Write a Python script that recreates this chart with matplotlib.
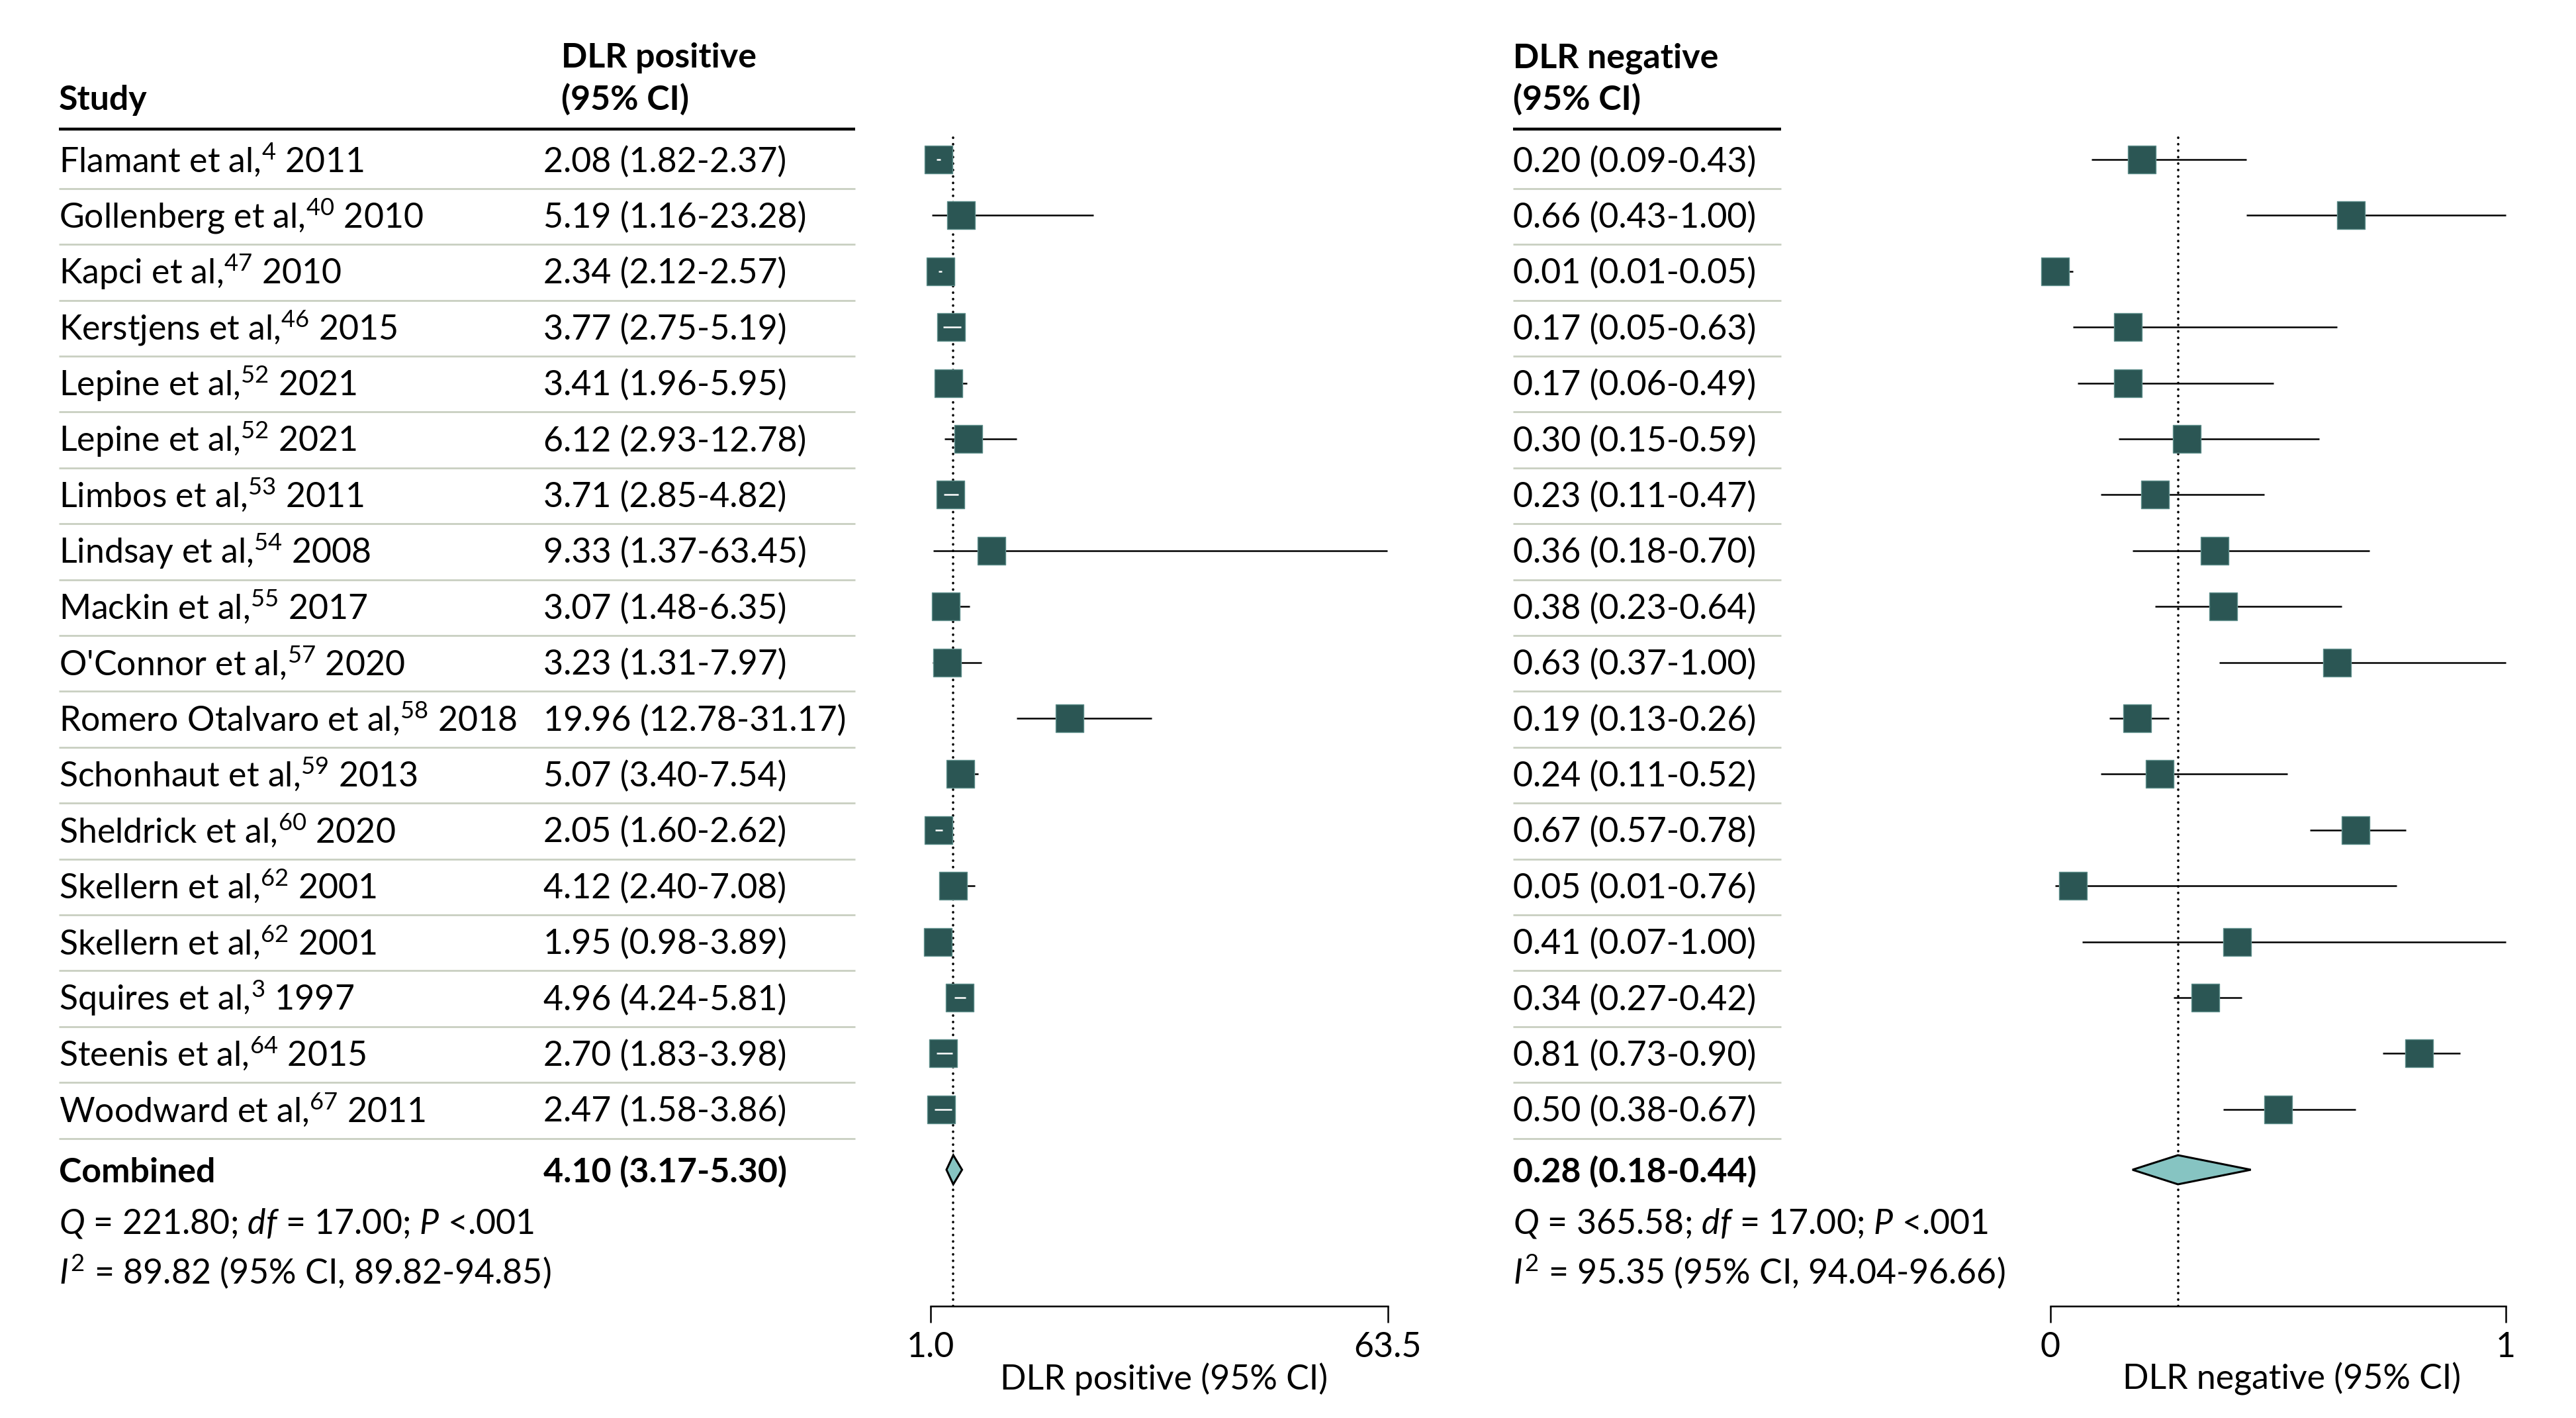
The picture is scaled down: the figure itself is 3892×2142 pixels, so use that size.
import numpy as np
import matplotlib
matplotlib.use("Agg")
import matplotlib.pyplot as plt
from matplotlib.patches import Polygon

# --- data -----------------------------------------------------------------
studies = ["Flamant et al", "Gollenberg et al", "Kapci et al", "Kerstjens et al",
           "Lepine et al", "Lepine et al", "Limbos et al", "Lindsay et al",
           "Mackin et al", "O'Connor et al", "Romero Otalvaro et al", "Schonhaut et al",
           "Sheldrick et al", "Skellern et al", "Skellern et al", "Squires et al",
           "Steenis et al", "Woodward et al"]
refs = [4, 40, 47, 46, 52, 52, 53, 54, 55, 57, 58, 59, 60, 62, 62, 3, 64, 67]
years = [2011, 2010, 2010, 2015, 2021, 2021, 2011, 2008, 2017, 2020, 2018, 2013,
         2020, 2001, 2001, 1997, 2015, 2011]

pos_est = [2.08, 5.19, 2.34, 3.77, 3.41, 6.12, 3.71, 9.33, 3.07, 3.23, 19.96, 5.07,
           2.05, 4.12, 1.95, 4.96, 2.70, 2.47]
pos_lo = [1.82, 1.16, 2.12, 2.75, 1.96, 2.93, 2.85, 1.37, 1.48, 1.31, 12.78, 3.40,
          1.60, 2.40, 0.98, 4.24, 1.83, 1.58]
pos_hi = [2.37, 23.28, 2.57, 5.19, 5.95, 12.78, 4.82, 63.45, 6.35, 7.97, 31.17, 7.54,
          2.62, 7.08, 3.89, 5.81, 3.98, 3.86]

neg_est = [0.20, 0.66, 0.01, 0.17, 0.17, 0.30, 0.23, 0.36, 0.38, 0.63, 0.19, 0.24,
           0.67, 0.05, 0.41, 0.34, 0.81, 0.50]
neg_lo = [0.09, 0.43, 0.01, 0.05, 0.06, 0.15, 0.11, 0.18, 0.23, 0.37, 0.13, 0.11,
          0.57, 0.01, 0.07, 0.27, 0.73, 0.38]
neg_hi = [0.43, 1.00, 0.05, 0.63, 0.49, 0.59, 0.47, 0.70, 0.64, 1.00, 0.26, 0.52,
          0.78, 0.76, 1.00, 0.42, 0.90, 0.67]

pos_comb = (4.10, 3.17, 5.30)
neg_comb = (0.28, 0.18, 0.44)
pos_q = r"$\mathit{Q}$ = 221.80; $\mathit{df}$ = 17.00; $\mathit{P}$ <.001"
pos_i2 = r"$\mathit{I}^{\mathrm{2}}$ = 89.82 (95% CI, 89.82-94.85)"
neg_q = r"$\mathit{Q}$ = 365.58; $\mathit{df}$ = 17.00; $\mathit{P}$ <.001"
neg_i2 = r"$\mathit{I}^{\mathrm{2}}$ = 95.35 (95% CI, 94.04-96.66)"

# --- style ----------------------------------------------------------------
FONT = "Lato"
plt.rcParams["font.family"] = [FONT, "DejaVu Sans"]
plt.rcParams["mathtext.fontset"] = "custom"
plt.rcParams["mathtext.rm"] = FONT
plt.rcParams["mathtext.it"] = FONT + ":italic"
plt.rcParams["mathtext.bf"] = FONT + ":bold"

W, H, DPI = 3892, 2142, 200
FS = 18.7
SQ_COLOR = "#2b5654"
SQ_EDGE = "#5f8f8c"
DIA_COLOR = "#86c4c2"
SEP_COLOR = "#c9cfc1"

# rows are laid out on a fixed pitch, px = ROW0 + PITCH * row
ROW0, PITCH = 241, 84.4


def px2row(p):
    return (p - ROW0) / PITCH


Y_TOP = px2row(200)
Y_AXIS = px2row(1973)
COMB_ROW = px2row(1767)
Q_ROW = px2row(1845)
I2_ROW = px2row(1920)
BASE = 0.225  # baseline offset from row centre

fig = plt.figure(figsize=(W / DPI, H / DPI), dpi=DPI)
ax_t = fig.add_axes([0, 0, 1, 1])
ax_t.set_xlim(0, W)
ax_t.set_ylim(px2row(H), px2row(0))
ax_t.axis("off")


def fmt(e, l, h):
    return f"{e:.2f} ({l:.2f}-{h:.2f})"


def table(x_val, x_head, x_line0, x_line1, est, lo, hi, comb, q, i2, head, study_col):
    n = len(est)
    ax_t.text(x_head, px2row(102), head, fontsize=FS, fontweight="bold", va="baseline")
    ax_t.text(x_head, px2row(166), "(95% CI)", fontsize=FS, fontweight="bold", va="baseline")
    ax_t.plot([x_line0, x_line1], [px2row(195)] * 2, color="black", lw=1.6,
              solid_capstyle="butt")
    for i in range(n):
        if study_col:
            ax_t.text(89, i + BASE, f"{studies[i]},$^{{\\mathrm{{{refs[i]}}}}}$ {years[i]}",
                      fontsize=FS, va="baseline")
        ax_t.text(x_val, i + BASE, fmt(est[i], lo[i], hi[i]), fontsize=FS, va="baseline")
        ax_t.plot([x_line0, x_line1], [i + 0.52] * 2, color=SEP_COLOR, lw=1.0,
                  solid_capstyle="butt")
    x_stats = 89 if study_col else x_head
    if study_col:
        ax_t.text(89, COMB_ROW + BASE, "Combined", fontsize=FS, fontweight="bold", va="baseline")
    ax_t.text(x_val, COMB_ROW + BASE, fmt(*comb), fontsize=FS, fontweight="bold", va="baseline")
    ax_t.text(x_stats, Q_ROW + BASE, q, fontsize=FS, va="baseline")
    ax_t.text(x_stats, I2_ROW + BASE, i2, fontsize=FS, va="baseline")


def forest(x0, x1, est, lo, hi, comb, xmin, xmax, ticklabels, xlabel, label_x=0.5):
    ax = fig.add_axes([x0 / W, 1 - 1973 / H, (x1 - x0) / W, (1973 - 200) / H])
    ax.set_xlim(xmin, xmax)
    ax.set_ylim(Y_AXIS, Y_TOP)
    ax.patch.set_visible(False)
    est, lo, hi = map(np.asarray, (est, lo, hi))
    rows = np.arange(len(est))

    ax.axvline(comb[0], color="black", lw=1.3, ls=(0, (0.1, 2.6)),
               dash_capstyle="round", zorder=1)
    ax.hlines(rows, lo, hi, color="black", lw=0.9, zorder=2, clip_on=False)
    sq_px = 42
    ax.plot(est, rows, "s", ms=sq_px * 72 / DPI, mfc=SQ_COLOR, mec=SQ_EDGE, mew=0.5,
            zorder=3, clip_on=False)
    # CI lines fully hidden by the box are redrawn in white
    hw = sq_px / 2 * (xmax - xmin) / (x1 - x0)
    inside = (lo >= est - hw) & (hi <= est + hw)
    ax.hlines(rows[inside], lo[inside], hi[inside], color="white", lw=0.9, zorder=4)

    c, cl, ch = comb
    dh = 22 / PITCH
    ax.add_patch(Polygon([(cl, COMB_ROW), (c, COMB_ROW - dh), (ch, COMB_ROW), (c, COMB_ROW + dh)],
                         closed=True, facecolor=DIA_COLOR, edgecolor="black", lw=1.1,
                         zorder=5, clip_on=False))

    for s in ("top", "right", "left"):
        ax.spines[s].set_visible(False)
    ax.spines["bottom"].set_linewidth(0.9)
    ax.set_yticks([])
    ax.set_xticks([xmin, xmax])
    ax.set_xticklabels(ticklabels, fontsize=FS)
    ax.tick_params(axis="x", length=9, width=0.9, pad=5)
    ax.set_xlabel(xlabel, fontsize=FS)
    ax.xaxis.set_label_coords(label_x, -0.048)
    return ax


table(821, 848, 89, 1292, pos_est, pos_lo, pos_hi, pos_comb, pos_q, pos_i2,
      "DLR positive", True)
table(2286, 2286, 2286, 2691, neg_est, neg_lo, neg_hi, neg_comb, neg_q, neg_i2,
      "DLR negative", False)
ax_t.text(89, px2row(166), "Study", fontsize=FS, fontweight="bold", va="baseline")

forest(1406, 2097, pos_est, pos_lo, pos_hi, pos_comb, 1.0, 63.5, ["1.0", "63.5"],
       "DLR positive (95% CI)", label_x=0.51)
forest(3098, 3786, neg_est, neg_lo, neg_hi, neg_comb, 0, 1, ["0", "1"],
       "DLR negative (95% CI)", label_x=0.53)

fig.savefig("out.png", dpi=DPI)
